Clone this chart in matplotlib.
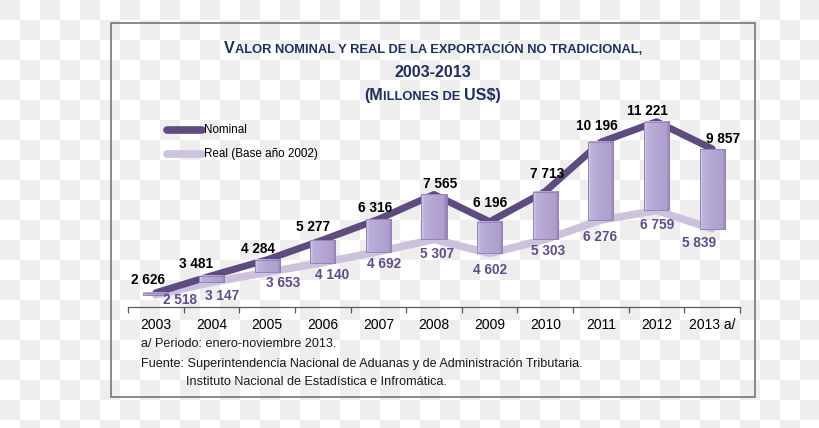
import numpy as np
import matplotlib
matplotlib.use('Agg')
import matplotlib.pyplot as plt
from matplotlib.colors import LinearSegmentedColormap
from matplotlib.patches import Rectangle

# ---- Data ----
years = ['2003', '2004', '2005', '2006', '2007', '2008', '2009', '2010',
         '2011', '2012', '2013 a/']
nominal = [2626, 3481, 4284, 5277, 6316, 7565, 6196, 7713, 10196, 11221, 9857]
real = [2518, 3147, 3653, 4140, 4692, 5307, 4602, 5303, 6276, 6759, 5839]

# label offsets in pixels (dx, dy), dy positive = down
NOM_OFF = [(-8, -13), (-15, -12), (-9, -11), (-10, -13), (-3, -11), (6, -10),
           (0, -19), (2, -18), (-4, -16), (-9, -11), (11, -10)]
REAL_OFF = [(24, 5), (11, 14), (16, 11), (9, 12), (6, 12), (3, 15),
            (0, 17), (3, 12), (-1, 17), (1, 15), (-13, 14)]

# ---- Style ----
W, H = 820, 428
SANS = ['Liberation Sans', 'DejaVu Sans']
NOM_C = '#5E4B80'
REAL_C = '#CCC2DE'
REAL_TXT = '#5F4D88'
TITLE_C = '#1F2F5E'
FRAME_C = '#7F7F7F'


def fx(x):
    return x / W


def fy(y):
    return 1 - y / H


def fmt(v):
    return f"{v:,}".replace(',', ' ')


fig = plt.figure(figsize=(W / 100, H / 100), dpi=100)

# transparent-background checkerboard
bg = fig.add_axes([0, 0, 1, 1], zorder=-10)
nr, nc = int(np.ceil(H / 20)), int(np.ceil(W / 20))
board = 1 - np.indices((nr, nc)).sum(axis=0) % 2
bg.imshow(board, cmap=LinearSegmentedColormap.from_list('chk', ['#FFFFFF', '#EEEEEE']),
          extent=(0, nc * 20, nr * 20, 0), interpolation='nearest', aspect='auto')
bg.set_xlim(0, W)
bg.set_ylim(H, 0)
bg.axis('off')
bg.add_patch(Rectangle((111, 23), 644, 374, fill=False, edgecolor=FRAME_C,
                       linewidth=1.3))

# ---- Main axes ----
ax = fig.add_axes([fx(128), fy(307), fx(740) - fx(128), (307 - 100) / H])
ax.patch.set_alpha(0)
x = np.arange(len(years))

ax.plot(x, real, color=REAL_C, linewidth=5.5, solid_capstyle='round', zorder=2)
ax.plot(x, nominal, color=NOM_C, linewidth=5.0, solid_capstyle='round', zorder=3)

# up-down bars with a bevelled look
bar_cmap = LinearSegmentedColormap.from_list(
    'bar', [(0, '#DAD3EC'), (0.12, '#BCB0D9'), (0.5, '#B4A6D3'),
            (0.88, '#AE9FCE'), (1, '#8E7DB5')])
grad = np.linspace(0, 1, 64).reshape(1, -1)
bw = 0.45
for xi, lo, hi in zip(x, real, nominal):
    ax.imshow(grad, cmap=bar_cmap, extent=(xi - bw / 2, xi + bw / 2, lo, hi),
              aspect='auto', zorder=4, interpolation='bicubic')
    ax.add_patch(Rectangle((xi - bw / 2, lo), bw, hi - lo, fill=False,
                           edgecolor='#9383B8', linewidth=0.7, zorder=5))

for xi, v, (dx, dy) in zip(x, nominal, NOM_OFF):
    ax.annotate(fmt(v), (xi, v), xytext=(dx * 0.72, -dy * 0.72),
                textcoords='offset points', ha='center', va='center',
                fontsize=9.8, fontweight='bold', color='black', family=SANS,
                zorder=6)
for xi, v, (dx, dy) in zip(x, real, REAL_OFF):
    ax.annotate(fmt(v), (xi, v), xytext=(dx * 0.72, -dy * 0.72),
                textcoords='offset points', ha='center', va='center',
                fontsize=9.8, fontweight='bold', color=REAL_TXT, family=SANS,
                zorder=6)

ax.set_xlim(-0.5, len(years) - 0.5)
ax.set_ylim(1910, 12311)
ax.set_yticks([])
for s in ['top', 'right', 'left']:
    ax.spines[s].set_visible(False)
ax.spines['bottom'].set_color('#595959')
ax.spines['bottom'].set_linewidth(0.9)
ax.set_xticks(x)
ax.set_xticklabels(years, fontsize=10, family=SANS, color='black')
ax.tick_params(axis='x', which='major', length=0, pad=8)
ax.set_xticks(np.arange(len(years) + 1) - 0.5, minor=True)
ax.tick_params(axis='x', which='minor', length=4, color='#595959', width=0.9)

# ---- Legend (manual, matches Excel layout) ----
for yy, col, lab in [(130, NOM_C, 'Nominal'), (154, REAL_C, 'Real (Base año 2002)')]:
    bg.plot([167, 202], [yy, yy], color=col, linewidth=5.5, solid_capstyle='round')
    bg.text(204, yy, lab, fontsize=8.4, family=SANS, va='center', ha='left',
            color='black')

# ---- Title in small caps ----
renderer = fig.canvas.get_renderer()


def smallcaps_line(parts, ybase, xc=433):
    texts = [fig.text(0, fy(ybase), s, fontsize=sz, fontweight='bold',
                      family=SANS, color=TITLE_C, va='baseline', ha='left')
             for s, sz in parts]
    widths = [t.get_window_extent(renderer).width for t in texts]
    xpos = xc - sum(widths) / 2
    for t, w in zip(texts, widths):
        t.set_x(fx(xpos))
        xpos += w


BIG, SMALL = 11.6, 9.3
smallcaps_line([('V', BIG), ('ALOR NOMINAL Y REAL DE LA EXPORTACIÓN NO TRADICIONAL,', SMALL)], 53)
smallcaps_line([('2003-2013', BIG)], 77)
smallcaps_line([('(M', BIG), ('ILLONES DE ', SMALL), ('US$)', BIG)], 100)

# ---- Footnotes ----
foot_kw = dict(fontsize=9.1, family=SANS, color='#1A1A1A', va='center', ha='left')
fig.text(fx(141), fy(344), 'a/ Periodo: enero-noviembre 2013.', **foot_kw)
fig.text(fx(141), fy(364), 'Fuente: Superintendencia Nacional de Aduanas y de '
         'Administración Tributaria.', **foot_kw)
fig.text(fx(186), fy(382), 'Instituto Nacional de Estadística e Infromática.', **foot_kw)

fig.savefig('out.png', dpi=100)
